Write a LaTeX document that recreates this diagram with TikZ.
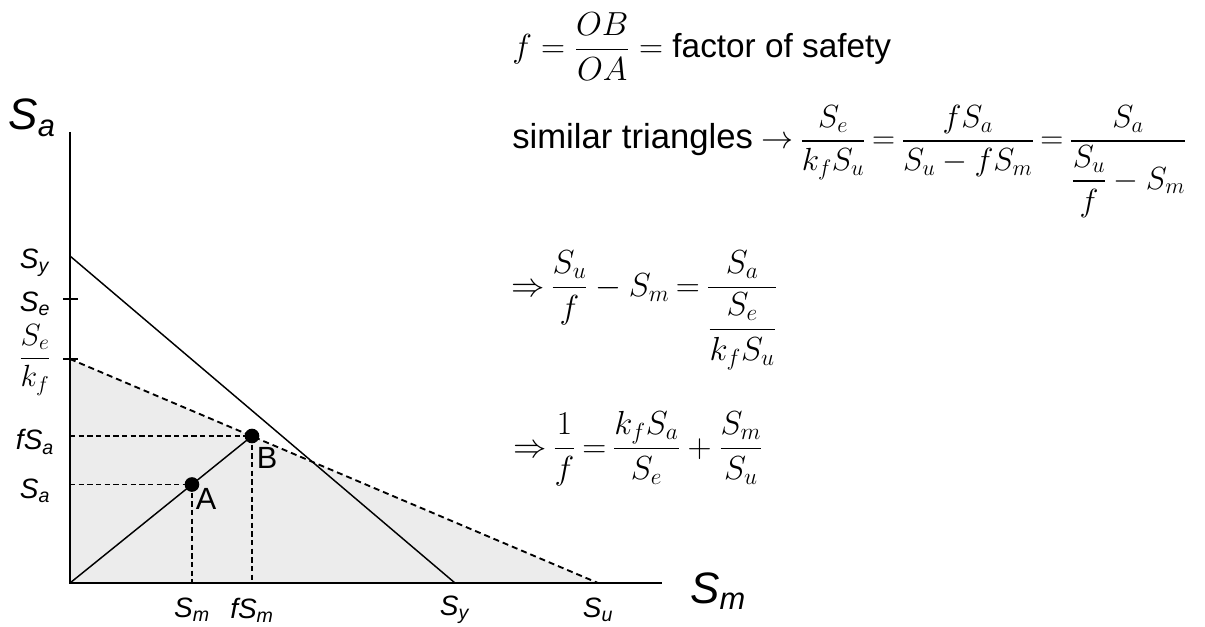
\RequirePackage{fix-cm}
\documentclass[tikz,border=0pt]{standalone}
\usepackage{amsmath}
\usepackage[no-math]{fontspec}
\setmainfont{Liberation Sans}
\usetikzlibrary{calc}
\newcommand{\lbl}[2]{\textit{#1}\textsubscript{\textit{#2}}}
\newcommand{\tightrel}{\thickmuskip=3.5mu\relax}
\begin{document}
\begin{tikzpicture}[x=0.75pt,y=-0.75pt,
  axis/.style={line width=1.6pt},
  limit/.style={line width=1.1pt},
  dline/.style={line width=1.4pt, dash pattern=on 4.5pt off 3pt},
  guide/.style={line width=1pt, dash pattern=on 4pt off 2.5pt},
  pt/.style={circle, fill=black, inner sep=0pt, minimum size=11pt},
  ax/.style={font=\fontsize{21}{23}\selectfont, inner sep=1pt},
  big/.style={font=\fontsize{33}{37}\selectfont, inner sep=1pt},
  eq/.style={font=\fontsize{25}{29}\selectfont, anchor=base west, inner sep=0pt}]
\useasboundingbox (0,0) rectangle (1205,627);
\coordinate (O) at (70,583);
\coordinate (Ytop) at (70,132);
\coordinate (Xend) at (662,583);
\coordinate (Sy) at (70,256);
\coordinate (SyX) at (455,583);
\coordinate (Sek) at (70,359);
\coordinate (Su) at (598,583);
\coordinate (Se) at (70,299);
\coordinate (Bc) at (252,436);
\coordinate (Ac) at ($(O)!0.67!(Bc)$);
\fill[gray!15] (O) -- (Sek) -- (Su) -- cycle;
\draw[axis] (Ytop) -- (O) -- (Xend);
\draw[limit] (Sy) -- (SyX);
\draw[dline] (Sek) -- (Su);
\draw[line width=1pt] ($(Se)+(-7,0)$) -- ($(Se)+(8,0)$);
\draw[line width=1pt] ($(Sek)+(-7,0)$) -- ($(Sek)+(8,0)$);
\draw[guide] (O |- Bc) -- (Bc) -- (Bc |- O);
\draw[guide] (O |- Ac) -- (Ac) -- (Ac |- O);
\draw[limit] (O) -- (Bc);
\node[pt] (B) at (Bc) {};
\node[pt] (A) at (Ac) {};
\node[ax, font=\fontsize{23}{25}\selectfont] (lA) at (206,499) {A};
\node[ax, font=\fontsize{23}{25}\selectfont] (lB) at (267,458) {B};
% axis labels
\node[big] (lSa) at (32,118) {\lbl{S}{a}};
\node[big] (lSm) at (718,591) {\lbl{S}{m}};
\node[ax] (ySy) at (35,263) {\lbl{S}{y}};
\node[ax] (ySe) at (35,304) {\lbl{S}{e}};
\node[ax, font=\fontsize{23}{25}\selectfont] (ySek) at (35,360) {$\dfrac{S_e}{k_f}$};
\node[ax] (yfSa) at (35,442) {\lbl{fS}{a}};
\node[ax] (ySa) at (35,491) {\lbl{S}{a}};
\node[ax] (xSm) at (192,610) {\lbl{S}{m}};
\node[ax] (xfSm) at (252,610) {\lbl{fS}{m}};
\node[ax] (xSy) at (455,610) {\lbl{S}{y}};
\node[ax] (xSu) at (598,610) {\lbl{S}{u}};
% equations
\node[eq] (e1) at (512,58) {$\displaystyle f=\frac{OB}{OA}={}$factor of safety};
\node[eq, font=\fontsize{24}{28}\selectfont] (e2) at (512,149) {{\fontsize{26}{30}\selectfont similar triangles} $\displaystyle\tightrel\rightarrow\frac{S_e}{k_fS_u}=\frac{fS_a}{S_u-fS_m}=\frac{S_a}{\dfrac{S_u}{f}-S_m}$};
\node[eq] (e3) at (511,296) {$\displaystyle\tightrel\Rightarrow\frac{S_u}{f}-S_m=\frac{S_a}{\dfrac{S_e}{k_fS_u}}$};
\node[eq] (e4) at (513,457) {$\displaystyle\tightrel\Rightarrow\frac{1}{f}=\frac{k_fS_a}{S_e}+\frac{S_m}{S_u}$};
\end{tikzpicture}
\end{document}
